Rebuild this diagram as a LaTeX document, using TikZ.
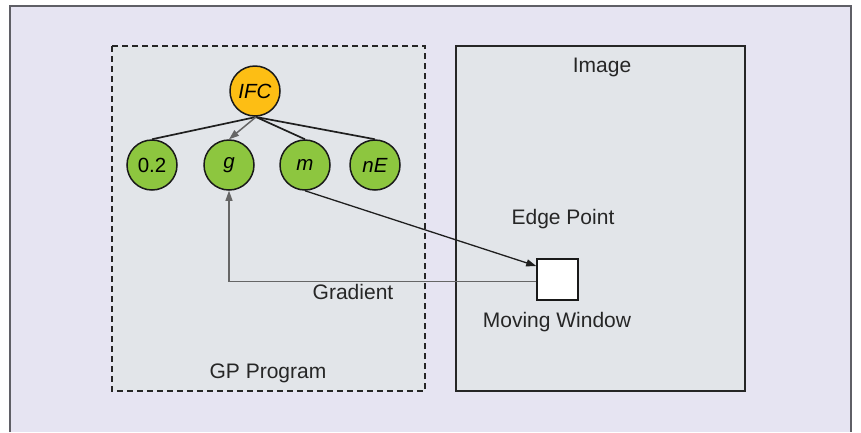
\documentclass[tikz,border=0pt]{standalone}
\usepackage{fontspec}
\setmainfont{Liberation Sans}
\usetikzlibrary{arrows.meta}
\definecolor{lav}{HTML}{E6E4F2}
\definecolor{boxfill}{HTML}{E2E5E9}
\definecolor{orangec}{HTML}{FDBE14}
\definecolor{greenc}{HTML}{8DC63F}
\definecolor{framec}{HTML}{5F5F66}
\definecolor{grayarr}{HTML}{666666}
\tikzset{
  region/.style={draw=black!85, line width=1.1pt, fill=boxfill},
  opnode/.style={circle, draw=black!90, line width=1.5pt, fill=orangec, minimum size=50pt, inner sep=0pt, font=\fontsize{20.5}{24}\selectfont\itshape},
  leafnode/.style={circle, draw=black!90, line width=1.5pt, fill=greenc, minimum size=50pt, inner sep=0pt, font=\fontsize{20.5}{24}\selectfont},
  lbl/.style={font=\fontsize{21}{25}\selectfont, text=black!85, inner sep=0pt},
  treeedge/.style={line width=1.7pt, draw=black!88},
  arr/.style={-{Triangle[length=10pt,width=7pt]}, line width=1.3pt}
}
\begin{document}
\begin{tikzpicture}[x=1pt,y=-1pt]
\useasboundingbox (0,0) rectangle (861,432);
\fill[white] (0,0) rectangle (861,432);
\fill[lav] (10,6) rectangle (851,432);
\draw[framec, line width=2pt] (10,432) -- (10,6) -- (851,6) -- (851,432);
% regions
\draw[region, dashed, dash pattern=on 6pt off 4pt] (112,46) rectangle (425,391);
\draw[region] (456,46) rectangle (745,391);
\node[lbl] (imglbl) at (602,67) {Image};
\node[lbl] (gplbl) at (268,373) {GP Program};
% tree
\node[opnode] (ifc) at (255,91) {IFC};
\node[leafnode] (n02) at (152,165) {0.2};
\node[leafnode] (ng) at (229,165) {\itshape g};
\node[leafnode] (nm) at (305,165) {\itshape m};
\node[leafnode] (nE) at (375,165) {\itshape nE};
\coordinate (ifcb) at (256,117);
\draw[treeedge] (ifcb) -- (n02.north);
\draw[treeedge] (ifcb) -- (nm.north);
\draw[treeedge] (ifcb) -- (nE.north);
\draw[arr, grayarr, line width=1.5pt] (ifcb) -- (ng.north);
% window
\node[draw=black!90, line width=1.5pt, fill=white, minimum size=41pt, inner sep=0pt] (win) at (557.5,279.5) {};
\node[lbl] (edge) at (563,219) {Edge Point};
\node[lbl] (mw) at (557,322) {Moving Window};
\draw[arr, black!88] (nm.south) -- (win.north west |- 0,266);
\draw[arr, grayarr, line width=1.1pt] (win.west |- 0,281.5) -| (ng.south);
\node[lbl] (grad) at (353,292) {Gradient};
\end{tikzpicture}
\end{document}
